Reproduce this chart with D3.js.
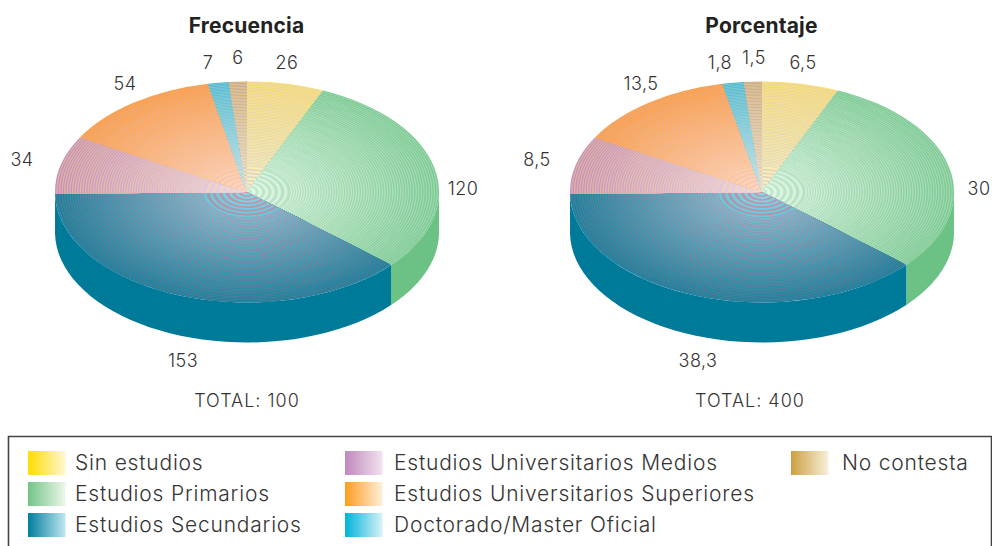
<!DOCTYPE html>
<html>
<head>
<meta charset="utf-8">
<script src="https://cdn.jsdelivr.net/npm/d3@7"></script>
<style>
    html, body { margin: 0; padding: 0; background: #fff; overflow: hidden; }
    text { font-family: Inter, Lato, sans-serif; font-weight: 300; fill: #333; }
</style>
</head>
<body>
<script>
// =======================DATA================================
const categories = ['Sin estudios', 'Estudios Primarios', 'Estudios Secundarios',
    'Estudios Universitarios Medios', 'Estudios Universitarios Superiores',
    'Doctorado/Master Oficial', 'No contesta']
const frecuencia = [26, 120, 153, 34, 54, 7, 6]
const porcentaje = [6.5, 30, 38.3, 8.5, 13.5, 1.8, 1.5]
const frecuenciaLabels = ['26', '120', '153', '34', '54', '7', '6']
const porcentajeLabels = ['6,5', '30', '38,3', '8,5', '13,5', '1,8', '1,5']

// =======================STYLE================================
const legendFrom = ['#ffdc00', '#72c488', '#007f9f', '#c088bc', '#ff9c1e', '#00b2d8', '#cca040']
const legendTo = ['#fff8d0', '#eef7ea', '#c0e6f0', '#f2e2f0', '#fff0dc', '#d8f2f8', '#f8f0dc']
const wallColors = ['#ffdc00', '#6cc184', '#007a99', '#c088bc', '#ff9c1e', '#00b2d8', '#cca040']
// stripes: two alternating colours, rim to centre
const stripeA = [['#ffe070', '#fbf2c0'], ['#78c990', '#c4ebce'], ['#0f83a4', '#84dcee'],
    ['#c48cc0', '#eed6ea'], ['#ff9c3c', '#ffdcc0'], ['#40bad8', '#ccf0f4'], ['#bca590', '#e0d6cc']]
const stripeB = [['#e4d4a4', '#dcd8cc'], ['#a0d6b0', '#e6f6ea'], ['#4f7c92', '#c89cb0'],
    ['#e0b49c', '#f0dcc8'], ['#eeaa7c', '#f6ccc0'], ['#8cc6cc', '#c8d8d8'], ['#ecc88c', '#f4e8cc']]

const radiusX = 192, radiusY = 110.5, depth = 40
const centers = [247, 762], centerY = 192

const pies = [
    { title: 'Frecuencia', values: frecuencia, labels: frecuenciaLabels, total: 'TOTAL: 100', cx: centers[0], totalX: 247,
      labelX: [40, 216, -64, -225, -122, -39, -9], labelY: [-128, -2, 170, -31, -107, -128, -133] },
    { title: 'Porcentaje', values: porcentaje, labels: porcentajeLabels, total: 'TOTAL: 400', cx: centers[1], totalX: 750,
      labelX: [41, 217, -64, -225, -121, -42, -8], labelY: [-128, -2, 170, -31, -107, -128, -133] }
]

const svg = d3.select('body').append('svg')
    .attr('width', 992)
    .attr('height', 546)

// =======================LEGEND GRADIENTS=====================
const defs = svg.append('defs')
categories.forEach((c, i) => {
    const g = defs.append('linearGradient').attr('id', 'swatch' + i)
    g.append('stop').attr('offset', '0').attr('stop-color', legendFrom[i])
    g.append('stop').attr('offset', '1').attr('stop-color', legendTo[i])
})

// =======================PIES==================================
const pieLayout = d3.pie().sort(null)

function wallPath(a0, a1, cx) {
    // visible side of the disc only: lower half of the ellipse
    const start = Math.max(a0, Math.PI / 2)
    const end = Math.min(a1, Math.PI * 1.5)
    if (end <= start) return null
    const angles = d3.range(0, 41).map((k) => start + (end - start) * k / 40)
    const top = angles.map((a) => [cx + Math.sin(a) * radiusX, centerY - Math.cos(a) * radiusY])
    const bottom = top.slice().reverse().map((p) => [p[0], p[1] + depth])
    return d3.line()(top.concat(bottom)) + 'Z'
}

function ringRadii() {
    // coarse stripes round the centre, fine ones out to the rim
    const radii = []
    let r = radiusX
    while (r > 1) {
        radii.push(r)
        r -= r < 45 ? 3.2 : 1.3
    }
    return radii
}

function drawPie(p) {
    const arcs = pieLayout(p.values)
    const chart = svg.append('g').attr('class', 'pie')

    chart.append('text')
        .attr('x', p.cx - 0.5).attr('y', 33)
        .attr('text-anchor', 'middle')
        .style('font-size', '21px').style('font-weight', 700).style('fill', '#222')
        .style('letter-spacing', '0.2px')
        .text(p.title)

    chart.append('g').selectAll('path')
        .data(arcs)
        .enter().append('path')
        .attr('fill', (d) => wallColors[d.index])
        .attr('d', (d) => wallPath(d.startAngle, d.endAngle, p.cx))

    const top = chart.append('g')
        .attr('transform', 'translate(' + p.cx + ',' + centerY + ') scale(1,' + (radiusY / radiusX) + ')')
    const radii = ringRadii()
    const slice = top.selectAll('g').data(arcs).enter().append('g')
    slice.each(function (d) {
        const colA = d3.interpolateRgb(stripeA[d.index][1], stripeA[d.index][0])
        const colB = d3.interpolateRgb(stripeB[d.index][1], stripeB[d.index][0])
        d3.select(this).selectAll('path')
            .data(radii)
            .enter().append('path')
            .attr('fill', (r, i) => i % 2 ? colB(r / radiusX) : colA(r / radiusX))
            .attr('d', (r) => d3.arc()({ innerRadius: 0, outerRadius: r, startAngle: d.startAngle, endAngle: d.endAngle }))
    })

    chart.append('g').selectAll('text')
        .data(p.labels)
        .enter().append('text')
        .attr('x', (d, i) => p.cx + p.labelX[i])
        .attr('y', (d, i) => centerY + p.labelY[i])
        .attr('text-anchor', 'middle')
        .attr('dominant-baseline', 'middle')
        .style('font-size', '18px')
        .style('letter-spacing', '0.5px')
        .text((d) => d)

    chart.append('text')
        .attr('x', p.totalX).attr('y', 407)
        .attr('text-anchor', 'middle')
        .style('font-size', '18px')
        .style('letter-spacing', '1px')
        .text(p.total)
}

pies.forEach(drawPie)

// =======================LEGEND================================
svg.append('path')
    .attr('d', 'M8.5,546V436.5H991.5V546')
    .attr('fill', 'none').attr('stroke', '#444').attr('stroke-width', 1.6)

const legendX = [28, 345, 791]
const legendTextX = [47, 49, 51]
const legendRows = [0, 1, 2, 0, 1, 2, 0]
const legendCols = [0, 0, 0, 1, 1, 1, 2]
const legendY = d3.scalePoint().domain([0, 1, 2]).range([451, 513])

const item = svg.append('g').selectAll('g')
    .data(categories)
    .enter().append('g')
    .attr('transform', (d, i) => 'translate(' + legendX[legendCols[i]] + ',' + legendY(legendRows[i]) + ')')
item.append('rect')
    .attr('width', 37.5).attr('height', 24)
    .attr('fill', (d, i) => 'url(#swatch' + i + ')')
item.append('text')
    .attr('x', (d, i) => legendTextX[legendCols[i]]).attr('y', 18.5)
    .style('font-size', '21px')
    .style('letter-spacing', '0.8px')
    .text((d) => d)
</script>
</body>
</html>
